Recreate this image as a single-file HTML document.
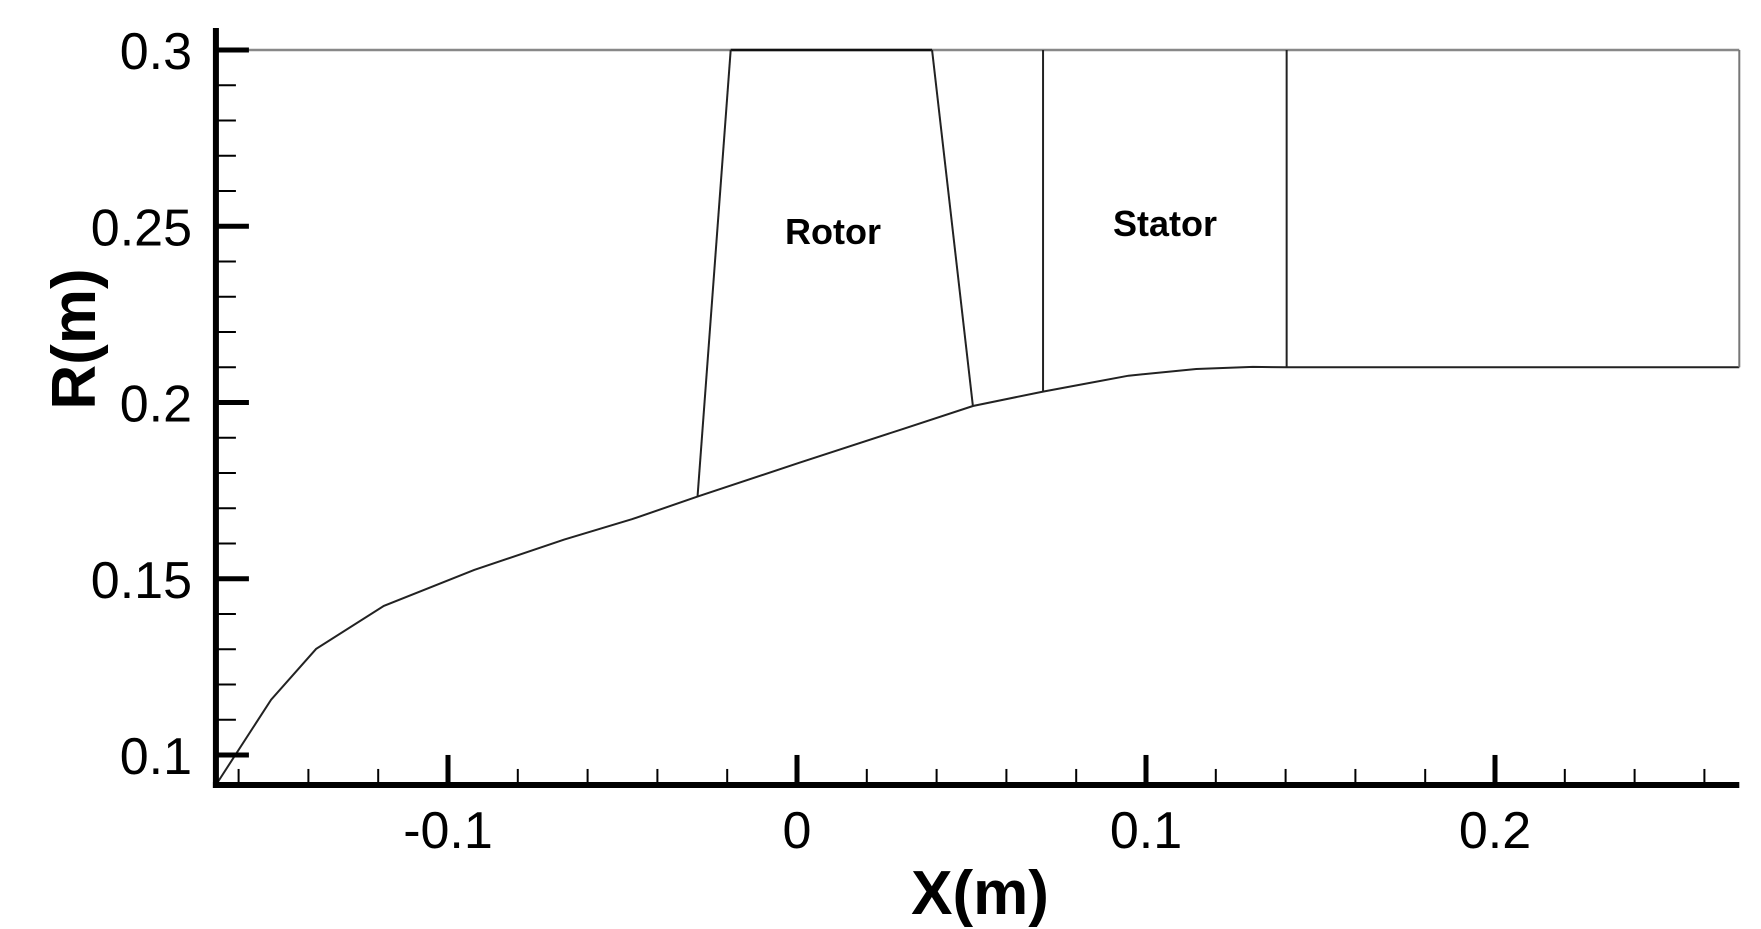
<!DOCTYPE html>
<html><head><meta charset="utf-8"><style>
html,body{margin:0;padding:0;background:#fff;}
svg{display:block;font-family:"Liberation Sans",sans-serif;}
</style></head><body>
<svg id="chart" width="1761" height="929" viewBox="0 0 1761 929" xmlns="http://www.w3.org/2000/svg"></svg>
<script>
const hubX=[-0.1665,-0.1507,-0.1378,-0.1184,-0.0925,-0.0667,-0.0473,-0.0285,0.0006,0.0304,0.0504,0.0705,0.0950,0.1144,0.1306,0.1403,0.27];
const hubR=[0.0915,0.1157,0.1301,0.1423,0.1525,0.1611,0.1669,0.1733,0.1829,0.1925,0.1990,0.2031,0.2076,0.2095,0.2101,0.21,0.21];
const shroudR=0.3;
const rotorLE=[[-0.019,0.3],[-0.0285,0.1733]];
const rotorTE=[[0.0387,0.3],[0.0504,0.199]];
const statorLE=[[0.0705,0.3],[0.0705,0.2031]];
const statorTE=[[0.1403,0.3],[0.1403,0.21]];
const xTicks=[-0.1,0,0.1,0.2];
const xTickLabels=["-0.1","0","0.1","0.2"];
const yTicks=[0.1,0.15,0.2,0.25,0.3];
const yTickLabels=["0.1","0.15","0.2","0.25","0.3"];
const xMin=-0.1665,xMax=0.27,yMin=0.0915;

const X=v=>797+(v)*3490;
const Y=v=>50+(0.3-v)*3525;
const svg=document.getElementById('chart');
const NS='http://www.w3.org/2000/svg';
function mk(tag,attrs,parent){const e=document.createElementNS(NS,tag);for(const k in attrs)e.setAttribute(k,attrs[k]);(parent||svg).appendChild(e);return e;}

// hub line
let d=hubX.map((x,i)=>(i?'L':'M')+X(x).toFixed(1)+' '+Y(hubR[i]).toFixed(1)).join(' ');
let p=mk('path',{d:d,fill:'none',stroke:'#222','stroke-width':2});


// shroud
let s=mk('line',{x1:X(xMin),y1:Y(shroudR),x2:X(xMax),y2:Y(shroudR),stroke:'#888','stroke-width':2.5});


let ob=mk('line',{x1:X(xMax),y1:Y(shroudR),x2:X(xMax),y2:Y(0.21),stroke:'#777','stroke-width':2});


// rotor top dark
let rt=mk('line',{x1:X(rotorLE[0][0]),y1:Y(0.3),x2:X(rotorTE[0][0]),y2:Y(0.3),stroke:'#111','stroke-width':2.5});


const segs=[[rotorLE,'rotor-leading-edge'],[rotorTE,'rotor-trailing-edge'],[statorLE,'stator-leading-edge'],[statorTE,'stator-trailing-edge']];
segs.forEach(([sg,n])=>{
 const l=mk('line',{x1:X(sg[0][0]),y1:Y(sg[0][1]),x2:X(sg[1][0]),y2:Y(sg[1][1]),stroke:'#222','stroke-width':2});
 
 
});
// labels
let t1=mk('text',{x:833,y:244,'font-size':36,'font-weight':'bold','text-anchor':'middle'});t1.textContent='Rotor';


let t2=mk('text',{x:1165,y:236,'font-size':36,'font-weight':'bold','text-anchor':'middle'});t2.textContent='Stator';



// axes
const ax0=X(xMin),ay0=Y(yMin);
let ya=mk('line',{x1:ax0,y1:Y(0.3)-22,x2:ax0,y2:ay0+3,stroke:'#000','stroke-width':6});


let xa=mk('line',{x1:ax0-3,y1:ay0,x2:X(xMax),y2:ay0,stroke:'#000','stroke-width':6});


// y minor ticks
for(let i=10;i<=30;i++){const v=i/100;const major=(i%5===0);
 const tk=mk('line',{x1:ax0,y1:Y(v),x2:ax0+(major?33:20),y2:Y(v),stroke:'#000','stroke-width':major?5:2});
 
 }
yTicks.forEach((v,i)=>{const t=mk('text',{x:192,y:Y(v)+19,'font-size':52,'text-anchor':'end'});t.textContent=yTickLabels[i];
 
 });
for(let i=-8;i<=13;i++){const v=i/50;if(X(v)<ax0+5)continue;const major=(i%5===0);
 const tk=mk('line',{x1:X(v),y1:ay0,x2:X(v),y2:ay0-(major?30:16),stroke:'#000','stroke-width':major?5:2});
 
 }
xTicks.forEach((v,i)=>{const t=mk('text',{x:X(v),y:848,'font-size':52,'text-anchor':'middle'});t.textContent=xTickLabels[i];
 
 });
let xt=mk('text',{x:980,y:914,'font-size':62,'font-weight':'bold','text-anchor':'middle'});xt.textContent='X(m)';


let yt=mk('text',{x:0,y:0,'font-size':62,'font-weight':'bold','text-anchor':'middle',transform:'translate(95,339) rotate(-90)'});yt.textContent='R(m)';


</script>
</body></html>
